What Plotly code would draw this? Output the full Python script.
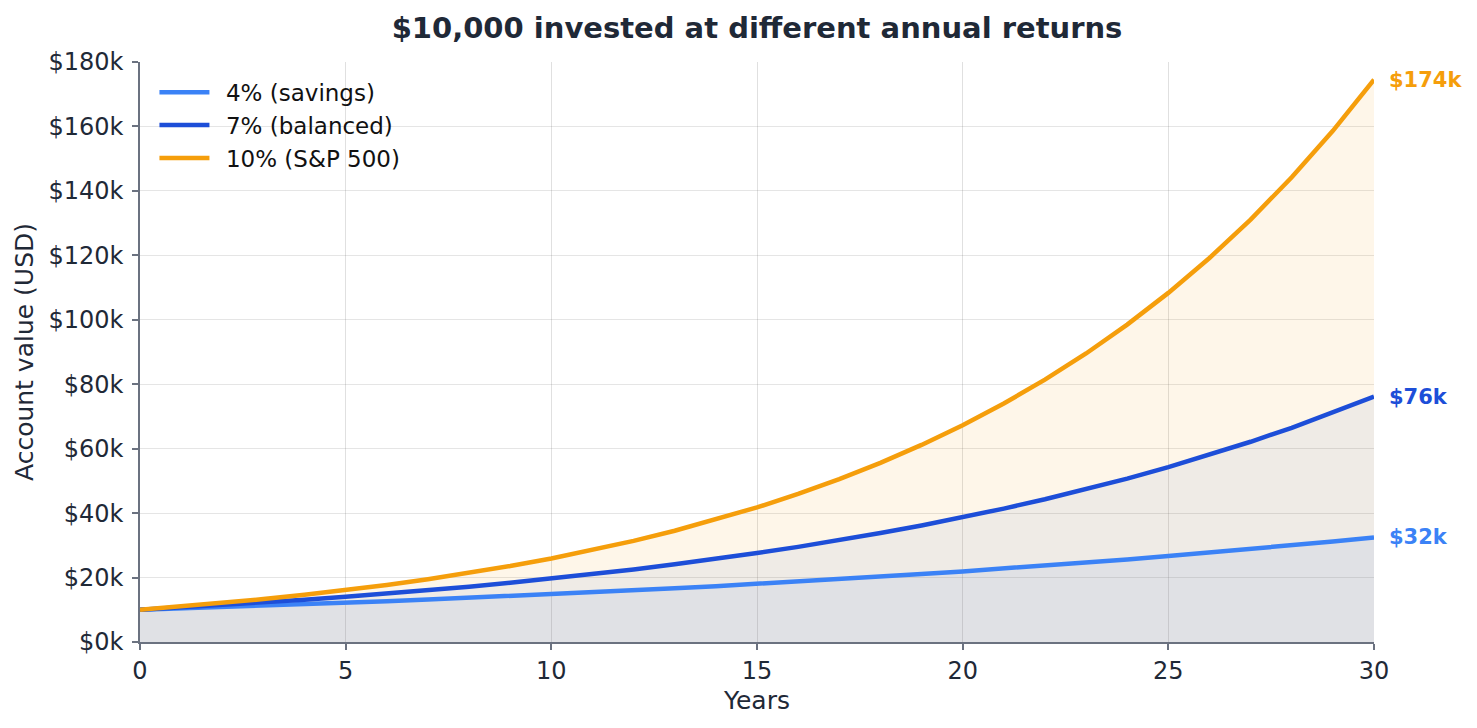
import plotly.graph_objects as go

years = list(range(31))
savings_4 = [10000, 10400, 10816, 11249, 11699, 12167, 12653, 13159, 13686, 14233,
             14802, 15395, 16010, 16651, 17317, 18009, 18730, 19479, 20258, 21068,
             21911, 22788, 23699, 24647, 25633, 26658, 27725, 28834, 29987, 31187, 32434]
balanced_7 = [10000, 10700, 11449, 12250, 13108, 14026, 15007, 16058, 17182, 18385,
              19672, 21049, 22522, 24098, 25785, 27590, 29522, 31588, 33799, 36165,
              38697, 41406, 44304, 47405, 50724, 54274, 58074, 62139, 66488, 71143, 76123]
sp500_10 = [10000, 11000, 12100, 13310, 14641, 16105, 17716, 19487, 21436, 23579,
            25937, 28531, 31384, 34523, 37975, 41772, 45950, 50545, 55599, 61159,
            67275, 74002, 81403, 89543, 98497, 108347, 119182, 131100, 144210, 158631, 174494]

series_names = ["4% (savings)", "7% (balanced)", "10% (S&P 500)"]
series_values = [savings_4, balanced_7, sp500_10]
end_labels = ["$32k", "$76k", "$174k"]
colors = ["#3b82f6", "#1d4ed8", "#f59e0b"]
fills = ["rgba(59,130,246,0.085)", "rgba(29,78,216,0.07)", "rgba(245,158,11,0.09)"]

y_tickvals = [0, 20000, 40000, 60000, 80000, 100000, 120000, 140000, 160000, 180000]
y_ticktext = ["$0k", "$20k", "$40k", "$60k", "$80k", "$100k", "$120k", "$140k", "$160k", "$180k"]

FONT = "DejaVu Sans"
TEXT = "#1f2937"

fig = go.Figure()
for name, vals, fc in zip(series_names, series_values, fills):
    fig.add_trace(go.Scatter(x=years, y=vals, mode="none", fill="tozeroy",
                             fillcolor=fc, showlegend=False, hoverinfo="skip"))
for name, vals, c in zip(series_names, series_values, colors):
    fig.add_trace(go.Scatter(x=years, y=vals, mode="lines", name="\u2002" + name,
                             line=dict(color=c, width=4.5)))
for vals, lab, c in zip(series_values, end_labels, colors):
    fig.add_annotation(x=years[-1], y=vals[-1], text=f"<b>{lab}</b>", showarrow=False,
                       xanchor="left", yanchor="middle", xshift=13,
                       font=dict(family=FONT, size=21, color=c))

fig.update_layout(
    width=1477, height=728,
    margin=dict(l=140, r=103, t=62, b=86),
    paper_bgcolor="white", plot_bgcolor="white",
    font=dict(family=FONT, color=TEXT, size=24),
    title=dict(text="<b>$10,000 invested at different annual returns</b>",
               x=0.5, xref="paper", xanchor="center", y=0.962, yanchor="middle",
               font=dict(family=FONT, size=29, color=TEXT)),
    legend=dict(x=0.0117, y=0.985, xanchor="left", yanchor="top",
                bgcolor="rgba(255,255,255,0)", font=dict(family=FONT, size=23, color="#111111"),
                tracegroupgap=0, itemwidth=50),
    showlegend=True,
)
fig.update_xaxes(range=[0, 30], tickvals=[0, 5, 10, 15, 20, 25, 30],
                 showgrid=True, gridcolor="rgba(100,100,100,0.2)", gridwidth=1,
                 showline=True, linecolor="#6b7280", linewidth=1.5,
                 ticks="outside", ticklen=6, tickcolor="#6b7280", tickwidth=1.5,
                 tickfont=dict(family=FONT, size=24, color=TEXT),
                 title=dict(text="Years", font=dict(family=FONT, size=25, color=TEXT), standoff=8),
                 zeroline=False)
fig.update_yaxes(range=[0, 180000], tickvals=y_tickvals, ticktext=y_ticktext,
                 showgrid=True, gridcolor="rgba(100,100,100,0.17)", gridwidth=1,
                 showline=True, linecolor="#6b7280", linewidth=1.5,
                 ticks="outside", ticklen=6, tickcolor="#6b7280", tickwidth=1.5,
                 ticklabelstandoff=4,
                 tickfont=dict(family=FONT, size=24, color=TEXT),
                 title=dict(text="Account value (USD)", font=dict(family=FONT, size=25, color=TEXT), standoff=8),
                 zeroline=False)

fig.write_html("out.html")
